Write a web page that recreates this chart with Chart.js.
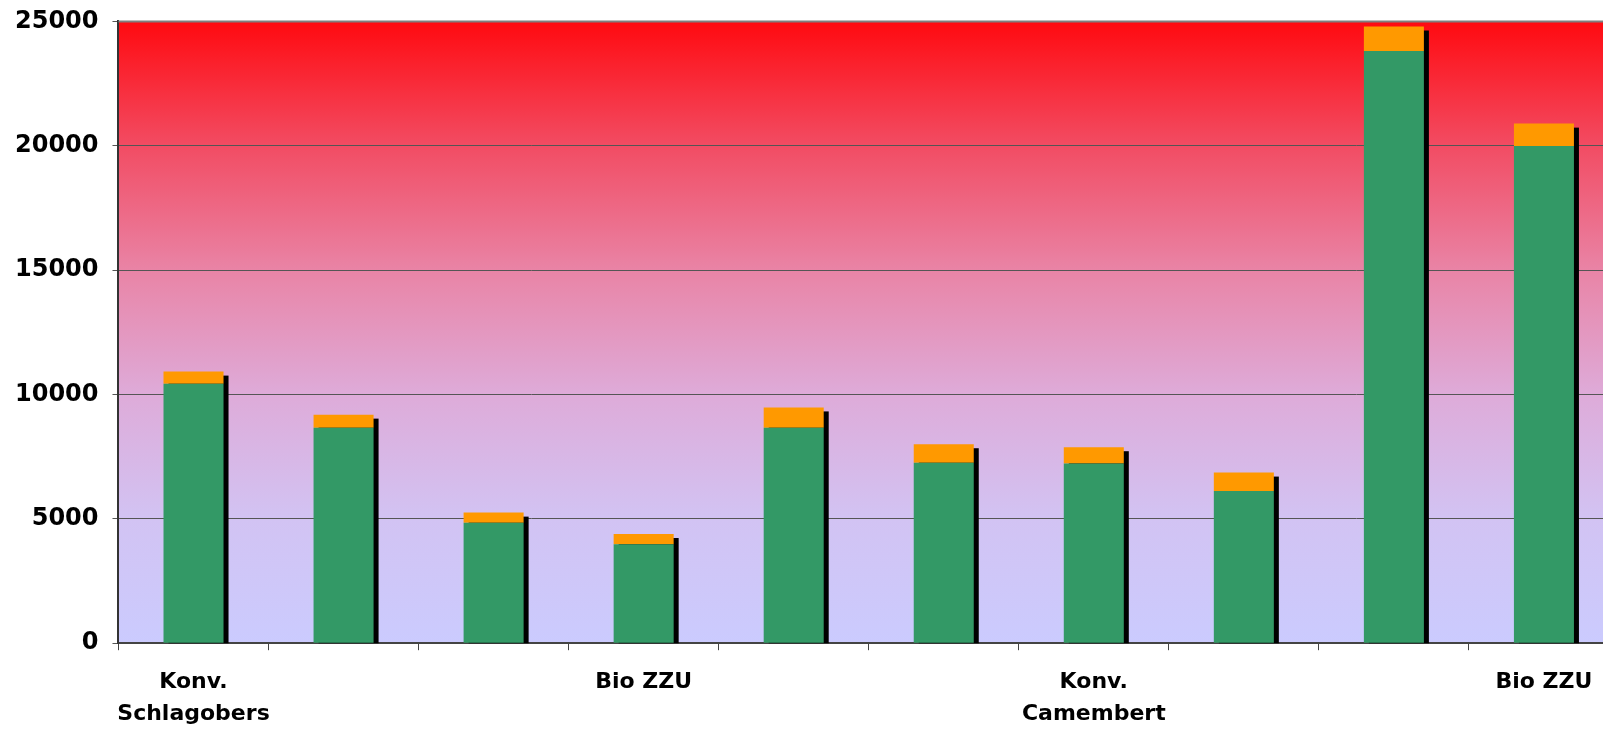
<!DOCTYPE html>
<html>
<head>
<meta charset="utf-8">
<script src="https://cdn.jsdelivr.net/npm/chart.js@4.4.1/dist/chart.umd.min.js"></script>
<style>
  html, body { margin: 0; padding: 0; background: #ffffff; overflow: hidden; }
  #wrap { width: 1769px; height: 767px; margin-top: -7px; }
</style>
</head>
<body>
<div id="wrap"><canvas id="barChart"></canvas></div>
<script>
// Kategorien (nur jede dritte beschriftet, letzte ist rechts abgeschnitten)
const categories = [
    ['Konv.', 'Schlagobers'], '', '', 'Bio ZZU', '', '',
    ['Konv.', 'Camembert'], '', '', 'Bio ZZU', ''
];
const greenValues  = [10430, 8660, 4840, 3980, 8660, 7260, 7220, 6120, 23810, 19990, null];
const orangeValues = [490, 530, 410, 410, 820, 740, 660, 740, 985, 900, null];
const yTicks = [0, 5000, 10000, 15000, 20000, 25000];

// Hintergrundverlauf rot -> lila im Diagrammbereich
const plotBackground = {
    id: 'plotBackground',
    beforeDraw(chart) {
        const { ctx, chartArea } = chart;
        const g = ctx.createLinearGradient(0, chartArea.top, 0, chartArea.bottom);
        g.addColorStop(0, '#ff0a10');
        g.addColorStop(0.2, '#f24c63');
        g.addColorStop(0.4, '#e984a6');
        g.addColorStop(0.6, '#deabd9');
        g.addColorStop(0.8, '#d2c3f3');
        g.addColorStop(1, '#cbcbfe');
        ctx.save();
        ctx.fillStyle = g;
        ctx.fillRect(chartArea.left, chartArea.top, chartArea.right - chartArea.left, chartArea.bottom - chartArea.top);
        ctx.restore();
    }
};

// schwarzer Schatten rechts hinter jedem Balken
const barShadow = {
    id: 'barShadow',
    beforeDatasetsDraw(chart) {
        const { ctx, chartArea } = chart;
        const base = chart.getDatasetMeta(0).data;
        const top = chart.getDatasetMeta(1).data;
        ctx.save();
        ctx.beginPath();
        ctx.rect(chartArea.left, chartArea.top, chartArea.right - chartArea.left, chartArea.bottom - chartArea.top);
        ctx.clip();
        ctx.fillStyle = '#000000';
        top.forEach((bar, i) => {
            if (greenValues[i] == null) return;
            const p = bar.getProps(['x', 'y', 'width'], true);
            const b = base[i].getProps(['base'], true);
            const left = p.x - p.width / 2 + 5;
            ctx.fillRect(left, p.y + 4, p.width, b.base - p.y);
        });
        ctx.restore();
    }
};

// oberer grauer Rahmen
const topBorder = {
    id: 'topBorder',
    afterDraw(chart) {
        const { ctx, chartArea } = chart;
        ctx.save();
        ctx.strokeStyle = '#808080';
        ctx.lineWidth = 2;
        ctx.beginPath();
        ctx.moveTo(chartArea.left, chartArea.top);
        ctx.lineTo(chartArea.right, chartArea.top);
        ctx.stroke();
        ctx.restore();
    }
};

const ctx = document.getElementById('barChart').getContext('2d');
new Chart(ctx, {
    type: 'bar',
    data: {
        labels: categories,
        datasets: [{
            label: 'A',
            data: greenValues,
            backgroundColor: '#339966',
            categoryPercentage: 1,
            barPercentage: 0.4
        }, {
            label: 'B',
            data: orangeValues,
            backgroundColor: '#ff9900',
            categoryPercentage: 1,
            barPercentage: 0.4
        }]
    },
    options: {
        responsive: true,
        maintainAspectRatio: false,
        animation: false,
        layout: { padding: { left: 1, top: 13, right: 0, bottom: 14 } },
        plugins: {
            legend: { display: false },
            tooltip: { enabled: false }
        },
        scales: {
            x: {
                stacked: true,
                grid: {
                    offset: true,
                    drawOnChartArea: false,
                    tickLength: 7,
                    color: '#444444'
                },
                border: { color: '#444444', width: 2 },
                ticks: {
                    autoSkip: false,
                    maxRotation: 0,
                    padding: 16,
                    color: '#000000',
                    font: { family: 'DejaVu Sans', size: 22, weight: 'bold', lineHeight: 1.45 }
                }
            },
            y: {
                stacked: true,
                min: 0,
                max: 25000,
                afterBuildTicks(axis) {
                    axis.ticks = yTicks.map(v => ({ value: v }));
                },
                grid: {
                    color: '#555555',
                    lineWidth: 1,
                    tickLength: 6
                },
                border: { color: '#333333', width: 2 },
                ticks: {
                    padding: 14,
                    color: '#000000',
                    callback: v => String(v),
                    font: { family: 'DejaVu Sans', size: 24, weight: 'bold' }
                }
            }
        }
    },
    plugins: [plotBackground, barShadow, topBorder]
});
</script>
</body>
</html>
